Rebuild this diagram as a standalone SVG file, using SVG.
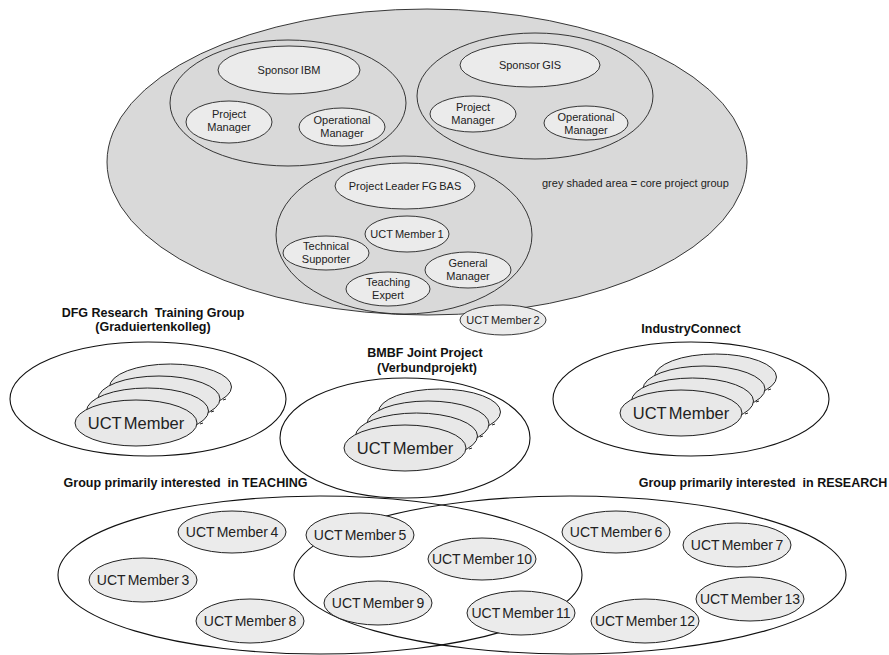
<svg xmlns="http://www.w3.org/2000/svg" width="889" height="655" viewBox="0 0 889 655">
  <style>
    .core { fill: #d9d9d9; stroke: #222; stroke-width: 0.9; }
    .ring { fill: none; stroke: #222; stroke-width: 0.9; }
    .role { fill: #ebebeb; stroke: #222; stroke-width: 0.9; }
    .member { fill: #ebebeb; stroke: #222; stroke-width: 1; }
    .stack { fill: #e8e8e8; stroke: #222; stroke-width: 1; }
    .group { fill: none; stroke: #111; stroke-width: 1.1; }
    text { font-family: "Liberation Sans", Arial, sans-serif; fill: #222; text-anchor: middle; }
    .s { font-size: 11px; word-spacing: -0.8px; }
    .note { font-size: 11px; text-anchor: start; }
    .m { font-size: 14px; word-spacing: -1.5px; }
    .l { font-size: 16.5px; word-spacing: -2.2px; }
    .t { font-size: 12.5px; font-weight: bold; fill: #111; white-space: pre; }
    .tick { stroke: #222; stroke-width: 1; fill: none; }
  </style>

  <!-- core project group (grey) -->
  <g id="core-group">
    <ellipse class="core" cx="427" cy="162" rx="320" ry="153"/>
    <text class="note" x="542" y="187">grey shaded area = core project group</text>
  </g>

  <g id="ibm">
    <ellipse class="ring" cx="288" cy="103" rx="118" ry="63"/>
    <g id="sponsor-ibm">
      <ellipse class="role" cx="289" cy="70" rx="71" ry="24"/>
      <text class="s" x="289" y="74">Sponsor IBM</text>
    </g>
    <g id="ibm-project-manager">
      <ellipse class="role" cx="229" cy="122" rx="43" ry="21"/>
      <text class="s" x="229" y="118">Project</text>
      <text class="s" x="229" y="131">Manager</text>
    </g>
    <g id="ibm-operational-manager">
      <ellipse class="role" cx="342" cy="127" rx="43" ry="19"/>
      <text class="s" x="342" y="124">Operational</text>
      <text class="s" x="342" y="137">Manager</text>
    </g>
  </g>

  <g id="gis">
    <ellipse class="ring" cx="535" cy="96" rx="118" ry="63"/>
    <g id="sponsor-gis">
      <ellipse class="role" cx="530" cy="65" rx="70" ry="22"/>
      <text class="s" x="530" y="69">Sponsor GIS</text>
    </g>
    <g id="gis-project-manager">
      <ellipse class="role" cx="473" cy="114" rx="43" ry="18"/>
      <text class="s" x="473" y="111">Project</text>
      <text class="s" x="473" y="124">Manager</text>
    </g>
    <g id="gis-operational-manager">
      <ellipse class="role" cx="586" cy="123" rx="42" ry="17"/>
      <text class="s" x="586" y="121">Operational</text>
      <text class="s" x="586" y="134">Manager</text>
    </g>
  </g>

  <g id="fg-bas">
    <ellipse class="ring" cx="404" cy="235" rx="128" ry="79"/>
    <g id="project-leader">
      <ellipse class="role" cx="405" cy="186" rx="70" ry="23"/>
      <text class="s" x="405" y="190">Project Leader FG BAS</text>
    </g>
    <g id="uct-member-1">
      <ellipse class="role" cx="407" cy="234" rx="42" ry="18"/>
      <text class="s" x="407" y="238">UCT Member 1</text>
    </g>
    <g id="technical-supporter">
      <ellipse class="role" cx="326" cy="253" rx="43" ry="17"/>
      <text class="s" x="326" y="250">Technical</text>
      <text class="s" x="326" y="263">Supporter</text>
    </g>
    <g id="general-manager">
      <ellipse class="role" cx="468" cy="270" rx="43" ry="18"/>
      <text class="s" x="468" y="267">General</text>
      <text class="s" x="468" y="280">Manager</text>
    </g>
    <g id="teaching-expert">
      <ellipse class="role" cx="388" cy="289" rx="42" ry="17"/>
      <text class="s" x="388" y="286">Teaching</text>
      <text class="s" x="388" y="299">Expert</text>
    </g>
  </g>

  <g id="uct-member-2">
    <ellipse class="role" cx="503" cy="320" rx="43" ry="15"/>
    <text class="s" x="503" y="324">UCT Member 2</text>
  </g>

  <!-- reusable stack of member cards -->
  <defs>
    <g id="member-stack">
      <ellipse class="stack" cx="34.5" cy="-36" rx="61" ry="23"/>
      <path class="tick" d="M 90 -24 l -3 1"/>
      <ellipse class="stack" cx="23" cy="-24" rx="61" ry="23"/>
      <path class="tick" d="M 78 -12 l -3 1"/>
      <ellipse class="stack" cx="11.5" cy="-12" rx="61" ry="23"/>
      <path class="tick" d="M 67 0 l -3 1"/>
      <ellipse class="stack" cx="0" cy="0" rx="61" ry="23"/>
      <text class="l" x="0" y="6">UCT Member</text>
    </g>
  </defs>

  <g id="dfg">
    <ellipse class="group" cx="148" cy="399" rx="138" ry="57"/>
    <text class="t" x="153" y="317">DFG Research  Training Group</text>
    <text class="t" x="153" y="331">(Graduiertenkolleg)</text>
    <use href="#member-stack" x="136" y="423"/>
  </g>

  <g id="bmbf">
    <ellipse class="group" cx="405" cy="438" rx="125" ry="60"/>
    <text class="t" x="425" y="357">BMBF Joint Project</text>
    <text class="t" x="427" y="372">(Verbundprojekt)</text>
    <use href="#member-stack" x="405" y="448"/>
  </g>

  <g id="industry-connect">
    <ellipse class="group" cx="691" cy="399" rx="138" ry="57"/>
    <text class="t" x="691" y="333">IndustryConnect</text>
    <use href="#member-stack" x="681" y="413"/>
  </g>

  <!-- interest groups -->
  <g id="teaching-group">
    <ellipse class="group" cx="320" cy="575" rx="262" ry="79"/>
    <text class="t" x="185.5" y="487">Group primarily interested  in TEACHING</text>
  </g>
  <g id="research-group">
    <ellipse class="group" cx="570" cy="575" rx="276" ry="79"/>
    <text class="t" x="763" y="487">Group primarily interested  in RESEARCH</text>
  </g>

  <g id="connectors"/>

  <g id="uct-member-3"><ellipse class="member" cx="143" cy="580" rx="54" ry="22"/><text class="m" x="143" y="585">UCT Member 3</text></g>
  <g id="uct-member-4"><ellipse class="member" cx="232" cy="532" rx="54" ry="21"/><text class="m" x="232" y="537">UCT Member 4</text></g>
  <g id="uct-member-5"><ellipse class="member" cx="360" cy="535" rx="54" ry="22"/><text class="m" x="360" y="540">UCT Member 5</text></g>
  <g id="uct-member-6"><ellipse class="member" cx="616" cy="532" rx="54" ry="21"/><text class="m" x="616" y="537">UCT Member 6</text></g>
  <g id="uct-member-7"><ellipse class="member" cx="737" cy="545" rx="54" ry="22"/><text class="m" x="737" y="550">UCT Member 7</text></g>
  <g id="uct-member-8"><ellipse class="member" cx="250" cy="621" rx="54" ry="22"/><text class="m" x="250" y="626">UCT Member 8</text></g>
  <g id="uct-member-9"><ellipse class="member" cx="378" cy="603" rx="54" ry="22"/><text class="m" x="378" y="608">UCT Member 9</text></g>
  <g id="uct-member-10"><ellipse class="member" cx="482" cy="559" rx="54" ry="21"/><text class="m" x="482" y="564">UCT Member 10</text></g>
  <g id="uct-member-11"><ellipse class="member" cx="521" cy="613" rx="54" ry="22"/><text class="m" x="521" y="618">UCT Member 11</text></g>
  <g id="uct-member-12"><ellipse class="member" cx="645" cy="621" rx="54" ry="22"/><text class="m" x="645" y="626">UCT Member 12</text></g>
  <g id="uct-member-13"><ellipse class="member" cx="750" cy="599" rx="54" ry="22"/><text class="m" x="750" y="604">UCT Member 13</text></g>
</svg>
